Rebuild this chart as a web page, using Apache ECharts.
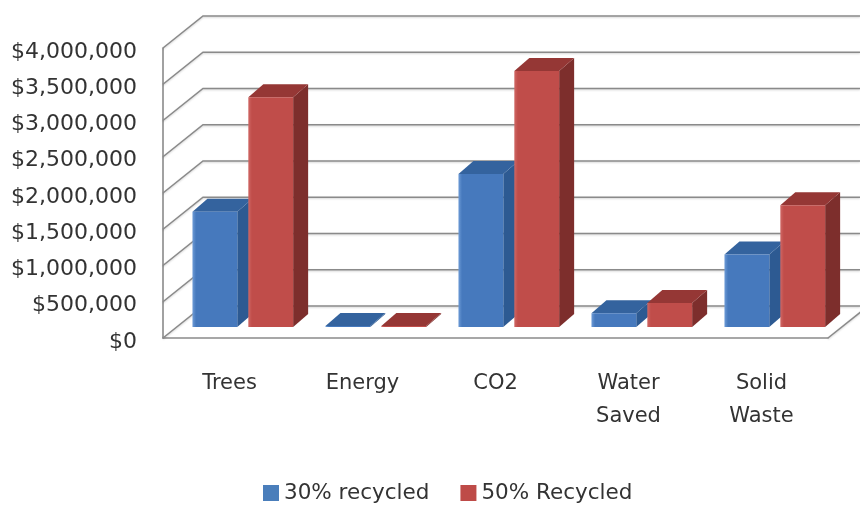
<!DOCTYPE html>
<html><head><meta charset="utf-8">
<style>html,body{margin:0;padding:0;background:#fff}#c{width:860px;height:506px}</style>
<script src="https://cdn.jsdelivr.net/npm/echarts@6/dist/echarts.min.js"></script>
</head><body><div id="c"></div>
<script>
const categories = ['Trees','Energy','CO2','Water\nSaved','Solid\nWaste'];
const recycled30 = [1590000, 15000, 2110000, 190000, 1000000];
const recycled50 = [3170000, 15000, 3530000, 330000, 1680000];
const ticks = [0,500000,1000000,1500000,2000000,2500000,3000000,3500000,4000000];
const names = ['30% recycled','50% Recycled'];

const wallDx = 40, wallDy = -32, depthDx = 15, depthDy = -13, baseDy = -11;
const FONT = 'DejaVu Sans';
const palette = [
  {front:'#4679bd', edge:'#6d9bd6', side:'#2d5a92', top:'#34639e', legend:'#4a7ebb'},
  {front:'#c04d4a', edge:'#cf6764', side:'#7d2e2c', top:'#953735', legend:'#be4b48'}
];
function barSeries(name, values, seriesIdx){
  const c = palette[seriesIdx];
  return {
    name, type:'custom', z:5, itemStyle:{color:c.legend},
    data: values.map((v,i)=>[i,v]),
    renderItem(params, api){
      const cat = api.value(0), v = api.value(1);
      const band = api.size([1,0])[0];
      const w = band*0.337, pitch = band*0.42, shift = band*0.1;
      const cx = api.coord([cat,0])[0];
      const y0 = api.coord([cat,0])[1] + baseDy;
      const yT = api.coord([cat,v])[1] + baseDy;
      const x0 = cx + shift - pitch/2 - w/2 + seriesIdx*pitch;
      const x1 = x0 + w;
      return {type:'group', children:[
        {type:'polygon', shape:{points:[[x1,y0],[x1+depthDx,y0+depthDy],[x1+depthDx,yT+depthDy],[x1,yT]]}, style:{fill:c.side}},
        {type:'polygon', shape:{points:[[x0,yT],[x1,yT],[x1+depthDx,yT+depthDy],[x0+depthDx,yT+depthDy]]}, style:{fill:c.top}},
        {type:'rect', shape:{x:x0,y:yT,width:w,height:Math.max(0,y0-yT)},
         style:{fill:{type:'linear',x:0,y:0,x2:1,y2:0,colorStops:[{offset:0,color:c.edge},{offset:0.08,color:c.front},{offset:1,color:c.front}]}}}
      ]};
    }
  };
}
const wallSeries = {
  type:'custom', z:1, silent:true, legendHoverLink:false,
  data: ticks.map(t=>[0,t]),
  renderItem(params, api){
    const t = api.value(1);
    const p = api.coord([0,t]);
    const left = p[0] - api.size([1,0])[0]/2;
    const style = {stroke:'#8a8a8a', lineWidth:1.6, fill:null, shadowColor:'rgba(0,0,0,0.18)', shadowBlur:2, shadowOffsetY:1};
    const kids = [{type:'polyline', shape:{points:[[left,p[1]],[left+wallDx,p[1]+wallDy],[api.getWidth(),p[1]+wallDy]]}, style}];
    if(t===0){
      const right = left + api.size([1,0])[0]*categories.length;
      kids.push({type:'line', shape:{x1:right,y1:p[1],x2:right+wallDx,y2:p[1]+wallDy}, style});
    }
    return {type:'group', children:kids};
  }
};
const chart = echarts.init(document.getElementById('c'),null,{renderer:'canvas'});
chart.setOption({
  animation:false, backgroundColor:'#fff',
  textStyle:{fontFamily:FONT},
  grid:{left:163, right:32, top:48, height:290, containLabel:false},
  legend:{
    data:names, left:258, top:477, itemWidth:16, itemHeight:16, itemGap:31, icon:'rect',
    textStyle:{fontFamily:FONT, fontSize:21.5, color:'#333'}
  },
  xAxis:{type:'category', data:categories,
    axisLine:{lineStyle:{color:'#8a8a8a', width:1.6}}, axisTick:{show:false},
    axisLabel:{fontFamily:FONT, fontSize:21, color:'#333', margin:29, lineHeight:33, verticalAlign:'top', interval:0}},
  yAxis:{type:'value', min:0, max:4000000, interval:500000,
    axisLine:{show:true, lineStyle:{color:'#8a8a8a', width:1.6}}, axisTick:{show:false}, splitLine:{show:false},
    axisLabel:{fontFamily:FONT, fontSize:22, color:'#333', margin:26, verticalAlign:'top', lineHeight:8,
      formatter:v=>'$'+v.toLocaleString('en-US')}},
  series:[wallSeries, barSeries(names[0],recycled30,0), barSeries(names[1],recycled50,1)]
});
</script></body></html>
